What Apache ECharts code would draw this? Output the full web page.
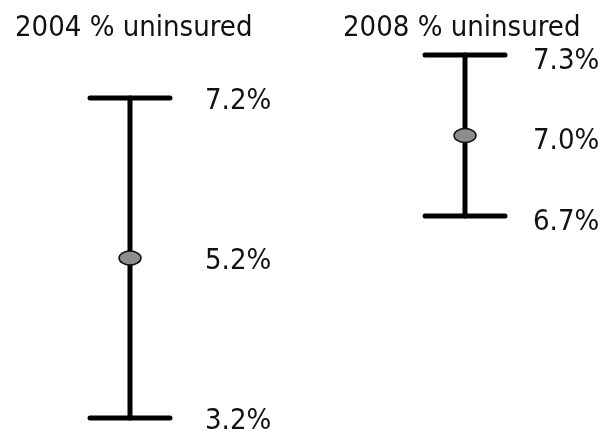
<!DOCTYPE html>
<html>
<head>
<meta charset="utf-8">
<script src="https://cdn.jsdelivr.net/npm/echarts@6/dist/echarts.min.js"></script>
<style>
  html, body { margin: 0; padding: 0; background: #fff; }
  #chart { width: 605px; height: 439px; }
</style>
</head>
<body>
<div id="chart"></div>
<script>
// --- data ---
const titles = ['2004 % uninsured', '2008 % uninsured'];
const lows = [3.2, 6.7];
const mids = [5.2, 7.0];
const highs = [7.2, 7.3];

const FONT = '"DejaVu Sans Condensed", "DejaVu Sans", sans-serif';

// layout per panel: grid box, label distance from the stem, label nudge down
const panels = [
    { grid: { left: 90, width: 80, top: 98, height: 320 }, labelGap: 75, labelDy: 3, titleLeft: 10 },
    { grid: { left: 425, width: 80, top: 55, height: 161 }, labelGap: 68, labelDy: 6, titleLeft: 338 }
];

// one error bar: stem, caps, oval marker, and the three value labels
function makeRender(panel) {
    return function (params, api) {
        const x = api.value(0);
        const lo = api.coord([x, api.value(1)]);
        const mi = api.coord([x, api.value(2)]);
        const hi = api.coord([x, api.value(3)]);
        const half = api.size([1, 0])[0] / 2;
        const line = { stroke: '#000', lineWidth: 5, lineCap: 'round' };
        const txt = (p, v) => ({
            type: 'text', x: p[0] + panel.labelGap, y: p[1] + panel.labelDy,
            style: { text: v.toFixed(1) + '%', fill: '#111', font: '29px ' + FONT, verticalAlign: 'middle' }
        });
        return {
            type: 'group',
            children: [
                { type: 'line', shape: { x1: hi[0], y1: hi[1], x2: lo[0], y2: lo[1] }, style: line },
                { type: 'line', shape: { x1: hi[0] - half, y1: hi[1], x2: hi[0] + half, y2: hi[1] }, style: line },
                { type: 'line', shape: { x1: lo[0] - half, y1: lo[1], x2: lo[0] + half, y2: lo[1] }, style: line },
                { type: 'ellipse', shape: { cx: mi[0], cy: mi[1], rx: 11, ry: 7 }, style: { fill: '#8d8d8d', stroke: '#111', lineWidth: 1.5 } },
                txt(hi, api.value(3)), txt(mi, api.value(2)), txt(lo, api.value(1))
            ]
        };
    };
}

const chart = echarts.init(document.getElementById('chart'));
chart.setOption({
    animation: false,
    title: panels.map((p, i) => ({
        text: titles[i], left: p.titleLeft, top: 9,
        textStyle: { fontSize: 29, fontWeight: 'normal', color: '#111', fontFamily: FONT }
    })),
    grid: panels.map(p => p.grid),
    xAxis: [0, 1].map(i => ({ type: 'category', gridIndex: i, data: [titles[i]], show: false })),
    yAxis: [0, 1].map(i => ({ type: 'value', gridIndex: i, min: lows[i], max: highs[i], show: false })),
    series: panels.map((p, i) => ({
        type: 'custom', xAxisIndex: i, yAxisIndex: i, clip: false,
        renderItem: makeRender(p),
        data: [[0, lows[i], mids[i], highs[i]]]
    }))
});
</script>
</body>
</html>
